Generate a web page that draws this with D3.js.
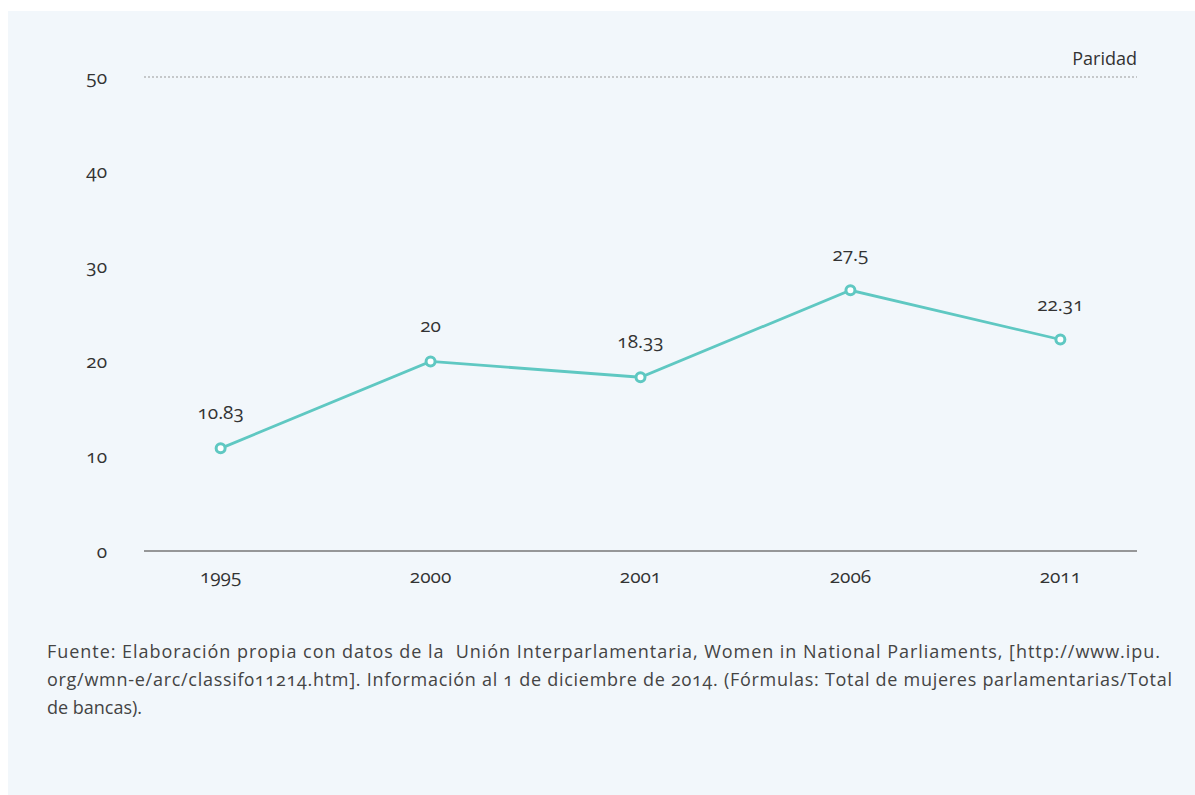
<!DOCTYPE html>
<head>
<meta charset="utf-8" />
<script src="https://d3js.org/d3.v7.min.js"></script>
<style>
    body { margin: 0; background: #fff; }
    svg { display: block; font-family: "Open Sans", sans-serif; font-variant-numeric: oldstyle-nums; font-feature-settings: "onum" 1; }
    .footer { white-space: pre; }
</style>
</head>
<body>
<div id="chart"></div>
<script>
    var years = ["1995", "2000", "2001", "2006", "2011"];
    var values = [10.83, 20, 18.33, 27.5, 22.31];
    var valueLabels = ["10.83", "20", "18.33", "27.5", "22.31"];
    var yTicks = [0, 10, 20, 30, 40, 50];
    var parityLevel = 50;
    var footer = [
        "Fuente: Elaboración propia con datos de la  Unión Interparlamentaria, Women in National Parliaments, [http://www.ipu.",
        "org/wmn-e/arc/classif011214.htm]. Información al 1 de diciembre de 2014. (Fórmulas: Total de mujeres parlamentarias/Total",
        "de bancas)."
    ];
    var footerWidths = [1113, 1125, null];

    var width = 1195, height = 795;
    var teal = "#5fc8c2";

    var svg = d3.select("#chart").append("svg")
        .attr("width", width)
        .attr("height", height);

    svg.append("rect")
        .attr("x", 8).attr("y", 11)
        .attr("width", width - 8).attr("height", height - 11)
        .attr("fill", "#f2f7fb");

    var x = d3.scalePoint()
        .domain(years)
        .range([144, 1137])
        .padding(0.365);

    var y = d3.scaleLinear()
        .domain([0, 50])
        .range([551, 77]);

    // y tick labels
    svg.append("g").selectAll("text")
        .data(yTicks)
        .join("text")
        .attr("x", 107)
        .attr("y", d => y(d))
        .attr("dy", "0.35em")
        .attr("text-anchor", "end")
        .attr("font-size", 19)
        .attr("fill", "#333")
        .text(d => d);

    // parity line
    svg.append("line")
        .attr("x1", 144).attr("x2", 1137)
        .attr("y1", y(parityLevel)).attr("y2", y(parityLevel))
        .attr("stroke", "#999")
        .attr("stroke-width", 1)
        .attr("stroke-dasharray", "2,2");

    svg.append("text")
        .attr("x", 1137)
        .attr("y", y(parityLevel) - 12)
        .attr("text-anchor", "end")
        .attr("font-size", 18)
        .attr("fill", "#333")
        .text("Paridad");

    // baseline
    svg.append("line")
        .attr("x1", 144).attr("x2", 1137)
        .attr("y1", y(0)).attr("y2", y(0))
        .attr("stroke", "#777")
        .attr("stroke-width", 1.5);

    // x labels
    svg.append("g").selectAll("text")
        .data(years)
        .join("text")
        .attr("x", d => x(d))
        .attr("y", 583)
        .attr("text-anchor", "middle")
        .attr("font-size", 19)
        .attr("fill", "#333")
        .text(d => d);

    var data = years.map((yr, i) => ({ year: yr, value: values[i], label: valueLabels[i] }));

    var line = d3.line()
        .x(d => x(d.year))
        .y(d => y(d.value));

    svg.append("path")
        .datum(data)
        .attr("d", line)
        .attr("fill", "none")
        .attr("stroke", teal)
        .attr("stroke-width", 2.8);

    svg.append("g").selectAll("circle")
        .data(data)
        .join("circle")
        .attr("cx", d => x(d.year))
        .attr("cy", d => y(d.value))
        .attr("r", 4.5)
        .attr("fill", "#fff")
        .attr("stroke", teal)
        .attr("stroke-width", 3);

    svg.append("g").selectAll("text")
        .data(data)
        .join("text")
        .attr("x", d => x(d.year))
        .attr("y", d => y(d.value) - 29)
        .attr("text-anchor", "middle")
        .attr("font-size", 19)
        .attr("fill", "#333")
        .text(d => d.label);

    var foot = svg.append("g").selectAll("text")
        .data(footer)
        .join("text")
        .attr("class", "footer")
        .attr("x", 47)
        .attr("y", (d, i) => 658 + i * 28)
        .attr("font-size", 18)
        .attr("fill", "#444")
        .text(d => d);
    foot.filter((d, i) => footerWidths[i])
        .attr("textLength", (d, i) => footerWidths[footer.indexOf(d)])
        .attr("lengthAdjust", "spacing");
</script>
</body>
